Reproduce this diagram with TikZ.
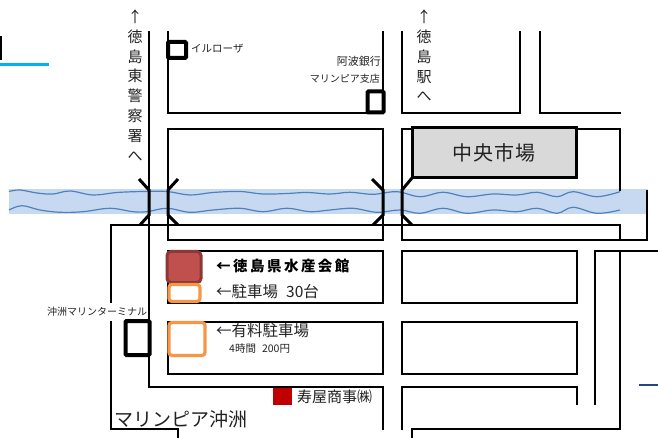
\documentclass[tikz,border=0pt]{standalone}
\usepackage{fontspec}
\setmainfont{Noto Sans CJK JP}
\newfontfamily\spaced[LetterSpace=17]{Noto Sans CJK JP}
\newfontfamily\marketfont[LetterSpace=6]{Noto Sans CJK JP}
\definecolor{river}{HTML}{C6D9F1}
\definecolor{wave}{HTML}{4F81BD}
\definecolor{redfill}{HTML}{C0504D}
\definecolor{reddraw}{HTML}{8C3836}
\definecolor{orangeline}{HTML}{F79646}
\definecolor{cyanline}{HTML}{00B0F0}
\definecolor{navyline}{HTML}{1F497D}
\definecolor{marketfill}{HTML}{D9D9D9}
\definecolor{labelink}{HTML}{222222}
\definecolor{shopred}{HTML}{C00000}
\begin{document}
\begin{tikzpicture}[x=1pt,y=-1pt,
  road/.style={draw=black,line width=1.9pt,line join=miter},
  bridge/.style={draw=black,line width=3pt},
  wavy/.style={draw=wave,line width=1.2pt,smooth,tension=0.6},
  iconbox/.style={draw=black,line width=4pt,fill=white,rounded corners=1pt},
  parkbox/.style={draw=orangeline,line width=3.2pt,fill=white,rounded corners=3pt},
  lab/.style={inner sep=0pt,anchor=west,text=labelink},
  vert/.style={inner sep=0pt,align=center,text=labelink,font=\fontsize{15}{19.8}\selectfont}
]
\useasboundingbox (0,0) rectangle (658,438);
% heading fragments
\draw[black,line width=2.5pt] (1,36) -- (1,60);
\draw[cyanline,line width=2.6pt] (0,64.5) -- (49,64.5);
\draw[navyline,line width=2.6pt] (639,385) -- (658,385);
% river
\fill[river] (9,189) rectangle (648,214.5);
\draw[wavy] plot coordinates {(9,191.5)(20,190)(37,193)(53,194)(70,191)(93,195)(117,192.5)(143,191.5)(167,191.5)(190,195)(213,192.5)(240,191.5)(263,194)(287,193.5)(307,192.5)(330,194)(350,192.3)(373,194.3)(397,191.7)(420,196.7)(443,192.3)(467,196.7)(493,194)(517,195)(537,192.3)(557,196.7)(573,191.7)(597,196.7)(620,191.7)};
\draw[wavy] plot coordinates {(9,210)(22,205.7)(40,210)(60,212.3)(83,211.7)(110,208.3)(133,211.7)(147,211.7)(167,208.3)(190,212.3)(213,210)(240,208.3)(263,211.7)(287,208.3)(310,211.7)(330,210)(353,208.3)(377,212.3)(400,210)(420,213.3)(443,208.3)(467,213.3)(493,210)(517,211.7)(537,208.3)(557,213.3)(573,207.3)(597,213.3)(620,210)};
% roads, top row
\draw[road] (168,31) -- (168,113) -- (383,113) -- (383,31);
\draw[road] (402,31) -- (402,113) -- (520,113) -- (520,31);
\draw[road] (540,31) -- (540,113) -- (621,113);
% second row
\draw[road] (168,190) -- (168,129) -- (383,129) -- (383,190);
\draw[road] (402,190) -- (402,129) -- (620,129) -- (620,191);
\draw[road] (149,31) -- (149,387) -- (383,387) -- (383,430);
\draw[road] (168,215) -- (168,240) -- (383,240) -- (383,215);
\draw[road] (402,215) -- (402,240) -- (647,240) -- (647,190);
\draw[road] (620,240) -- (620,225) -- (111,225) -- (111,303);
\draw[road] (111,321) -- (111,429) -- (178,429) -- (178,438);
% blocks
\draw[road] (168,251) rectangle (383,303);
\draw[road] (168,322) rectangle (383,374);
\draw[road] (402,251) rectangle (577,303);
\draw[road] (402,322) rectangle (577,374);
\draw[road] (402,430) -- (402,387) -- (577,387) -- (577,405);
\draw[road] (595,405) -- (595,251) -- (658,251);
\draw[road] (620,251) -- (620,429) -- (412,429) -- (412,438);
% bridges
\draw[bridge] (139,179) -- (149,190) -- (149,215) -- (140,225);
\draw[bridge] (178,179) -- (168,190) -- (168,215) -- (178,225);
\draw[bridge] (372,179) -- (383,190) -- (383,215) -- (373,225);
\draw[bridge] (412,178) -- (402,190) -- (402,215) -- (412,225);
% market
\node[draw=black,line width=3pt,fill=marketfill,minimum width=164pt,minimum height=50pt,inner sep=0pt,font=\marketfont\fontsize{20}{22}\selectfont,text=labelink] (market) at (494,153) {中央市場};
% icons
\node[iconbox,minimum width=18pt,minimum height=16pt,inner sep=0pt] (iruroza) at (177,50) {};
\node[iconbox,minimum width=16pt,minimum height=21pt,inner sep=0pt] (bank) at (375.5,102) {};
\node[iconbox,minimum width=24pt,minimum height=34pt,inner sep=0pt] (terminal) at (137.5,338) {};
\node[draw=reddraw,fill=redfill,line width=3pt,rounded corners=4pt,minimum width=34pt,minimum height=31pt,inner sep=0pt] (suisan) at (184,267) {};
\node[parkbox,minimum width=31pt,minimum height=17pt,inner sep=0pt] (park) at (184.5,293) {};
\node[parkbox,minimum width=36pt,minimum height=33pt,inner sep=0pt] (paid) at (187,339) {};
\node[fill=shopred,minimum width=19pt,minimum height=17pt,inner sep=0pt] (kotobuki) at (282.5,396.5) {};
% labels
\node[vert] (eastpolice) at (135,85.5) {↑\\徳\\島\\東\\警\\察\\署\\へ};
\node[vert] (station) at (424,56) {↑\\徳\\島\\駅\\へ};
\node[lab,font=\fontsize{10.5}{12}\selectfont] (t1) at (191,49) {イルローザ};
\node[inner sep=0pt,anchor=east,text=labelink,font=\fontsize{11}{12}\selectfont] (t2) at (381,61.5) {阿波銀行};
\node[inner sep=0pt,anchor=east,text=labelink,font=\fontsize{10}{12}\selectfont] (t3) at (380,79) {マリンピア支店};
\node[lab,font=\fontsize{10}{12}\selectfont,anchor=center] (t4) at (97,312) {沖洲マリンターミナル};
\node[lab,font=\spaced\bfseries\fontsize{14.5}{16}\selectfont,text=black] (t5) at (216,266) {←徳島県水産会館};
\node[lab,font=\fontsize{15.5}{16}\selectfont] (t6) at (216,292) {←駐車場\hspace{8pt}30台};
\node[lab,font=\fontsize{15.5}{16}\selectfont] (t7) at (216,331) {←有料駐車場};
\node[lab,font=\fontsize{10.5}{12}\selectfont] (t8) at (229,349) {4時間\hspace{6pt}200円};
\node[lab,font=\fontsize{15}{16}\selectfont] (t9) at (297,397) {寿屋商事㈱};
\node[lab,font=\fontsize{19}{20}\selectfont] (t10) at (114,419) {マリンピア沖洲};
\end{tikzpicture}
\end{document}
